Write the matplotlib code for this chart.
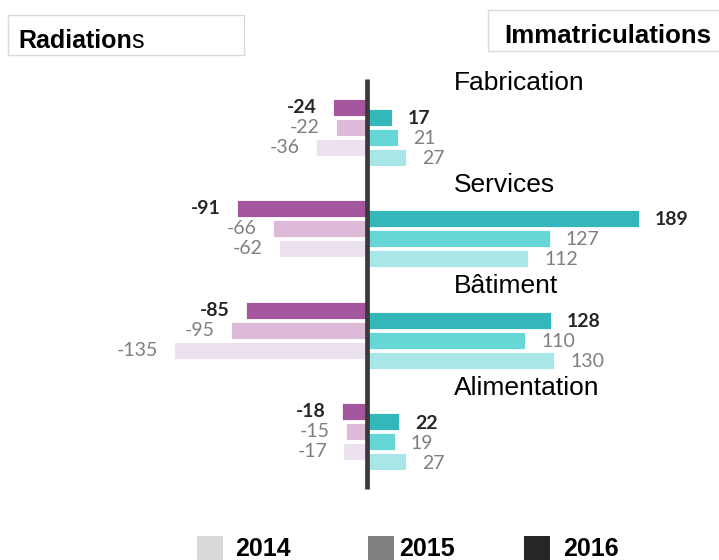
import matplotlib
matplotlib.use("Agg")
import matplotlib.pyplot as plt
from matplotlib.patches import Rectangle

# ---- data ----
categories = ["Fabrication", "Services", "Bâtiment", "Alimentation"]
years = ["2016", "2015", "2014"]
radiations = {
    "2016": [-24, -91, -85, -18],
    "2015": [-22, -66, -95, -15],
    "2014": [-36, -62, -135, -17],
}
immatriculations = {
    "2016": [17, 189, 128, 22],
    "2015": [21, 127, 110, 19],
    "2014": [27, 112, 130, 27],
}
legend_years = ["2014", "2015", "2016"]

# ---- styles ----
left_colors = {"2016": "#A5579E", "2015": "#DDBAD8", "2014": "#ECE1EF"}
right_colors = {"2016": "#33B7BB", "2015": "#67D6D7", "2014": "#A9E6E8"}
legend_colors = {"2014": "#D9D9D9", "2015": "#808080", "2016": "#262626"}
label_styles = {"2016": dict(color="#262626", fontweight="bold"),
                "2015": dict(color="#7F7F7F", fontweight="normal"),
                "2014": dict(color="#7F7F7F", fontweight="normal")}

W, H = 719, 560
fig = plt.figure(figsize=(W / 100, H / 100), dpi=100)
ax = fig.add_axes([0, 0, 1, 1])
ax.set_axis_off()

px_per_unit = 1.435
zero_px = 367.5
ax.set_xlim(-zero_px / px_per_unit, (W - zero_px) / px_per_unit)
slot_px = 20.0
first_px = 107.0
ax.set_ylim((H - first_px) / slot_px, -first_px / slot_px)

group_gap = 5.08
right_offset = 0.5
bar_h = 0.85
num_font = "Lato"

for gi, cat in enumerate(categories):
    base = gi * group_gap
    for yi, yr in enumerate(years):
        yl = base + yi
        yr_ = base + yi + right_offset
        lv = radiations[yr][gi]
        rv = immatriculations[yr][gi]
        ax.barh(yl, lv, height=bar_h, color=left_colors[yr],
                edgecolor="white", linewidth=0.6, zorder=2)
        ax.barh(yr_, rv, height=bar_h, color=right_colors[yr],
                edgecolor="white", linewidth=0.6, zorder=2)
        ax.annotate(f"{lv}", xy=(lv, yl), xytext=(-11.5, 0),
                    textcoords="offset points", ha="right", va="center",
                    fontsize=14, family=num_font, **label_styles[yr])
        ax.annotate(f"{rv}", xy=(rv, yr_), xytext=(11.5, -1),
                    textcoords="offset points", ha="left", va="center",
                    fontsize=14, family=num_font, **label_styles[yr])
    ax.text(60.5, base - 1.2, cat, ha="left", va="center", fontsize=19,
            family="Liberation Sans", color="black")

# central axis line
ax.plot([0, 0], [(79 - first_px) / slot_px, (489 - first_px) / slot_px],
        color="#3A3A3A", linewidth=3.4, solid_capstyle="butt", zorder=3)

# title boxes
def fbox(x0, y0, x1, y1):
    fig.patches.append(Rectangle((x0 / W, 1 - y1 / H), (x1 - x0) / W, (y1 - y0) / H,
                                 transform=fig.transFigure, facecolor="white",
                                 edgecolor="#D9D9D9", linewidth=1.0, zorder=0))

fbox(8, 15, 244, 55)
fbox(488, 10, 730, 51)
t = fig.text(18 / W, 1 - 48 / H, "Radiation", fontsize=18, fontweight="bold",
             family="Liberation Sans", ha="left", va="baseline")
fig.canvas.draw()
bb = t.get_window_extent()
fig.text(bb.x1 / W, 1 - 48 / H, "s", fontsize=18, fontweight="normal",
         family="Liberation Sans", ha="left", va="baseline")
fig.text(504 / W, 1 - 43 / H, "Immatriculations", fontsize=18.6, fontweight="bold",
         family="Liberation Sans", ha="left", va="baseline")

# legend
leg_sq_x = {"2014": 197, "2015": 368, "2016": 524}
leg_tx_x = {"2014": 235, "2015": 399, "2016": 563}
for yr in legend_years:
    fig.patches.append(Rectangle((leg_sq_x[yr] / W, 1 - 560 / H), 26 / W, 24 / H,
                                 transform=fig.transFigure,
                                 facecolor=legend_colors[yr], edgecolor="none"))
    fig.text(leg_tx_x[yr] / W, 1 - 556.5 / H, yr, fontsize=18, fontweight="bold",
             family="Liberation Sans", ha="left", va="baseline")

fig.savefig("out.png", dpi=100)
